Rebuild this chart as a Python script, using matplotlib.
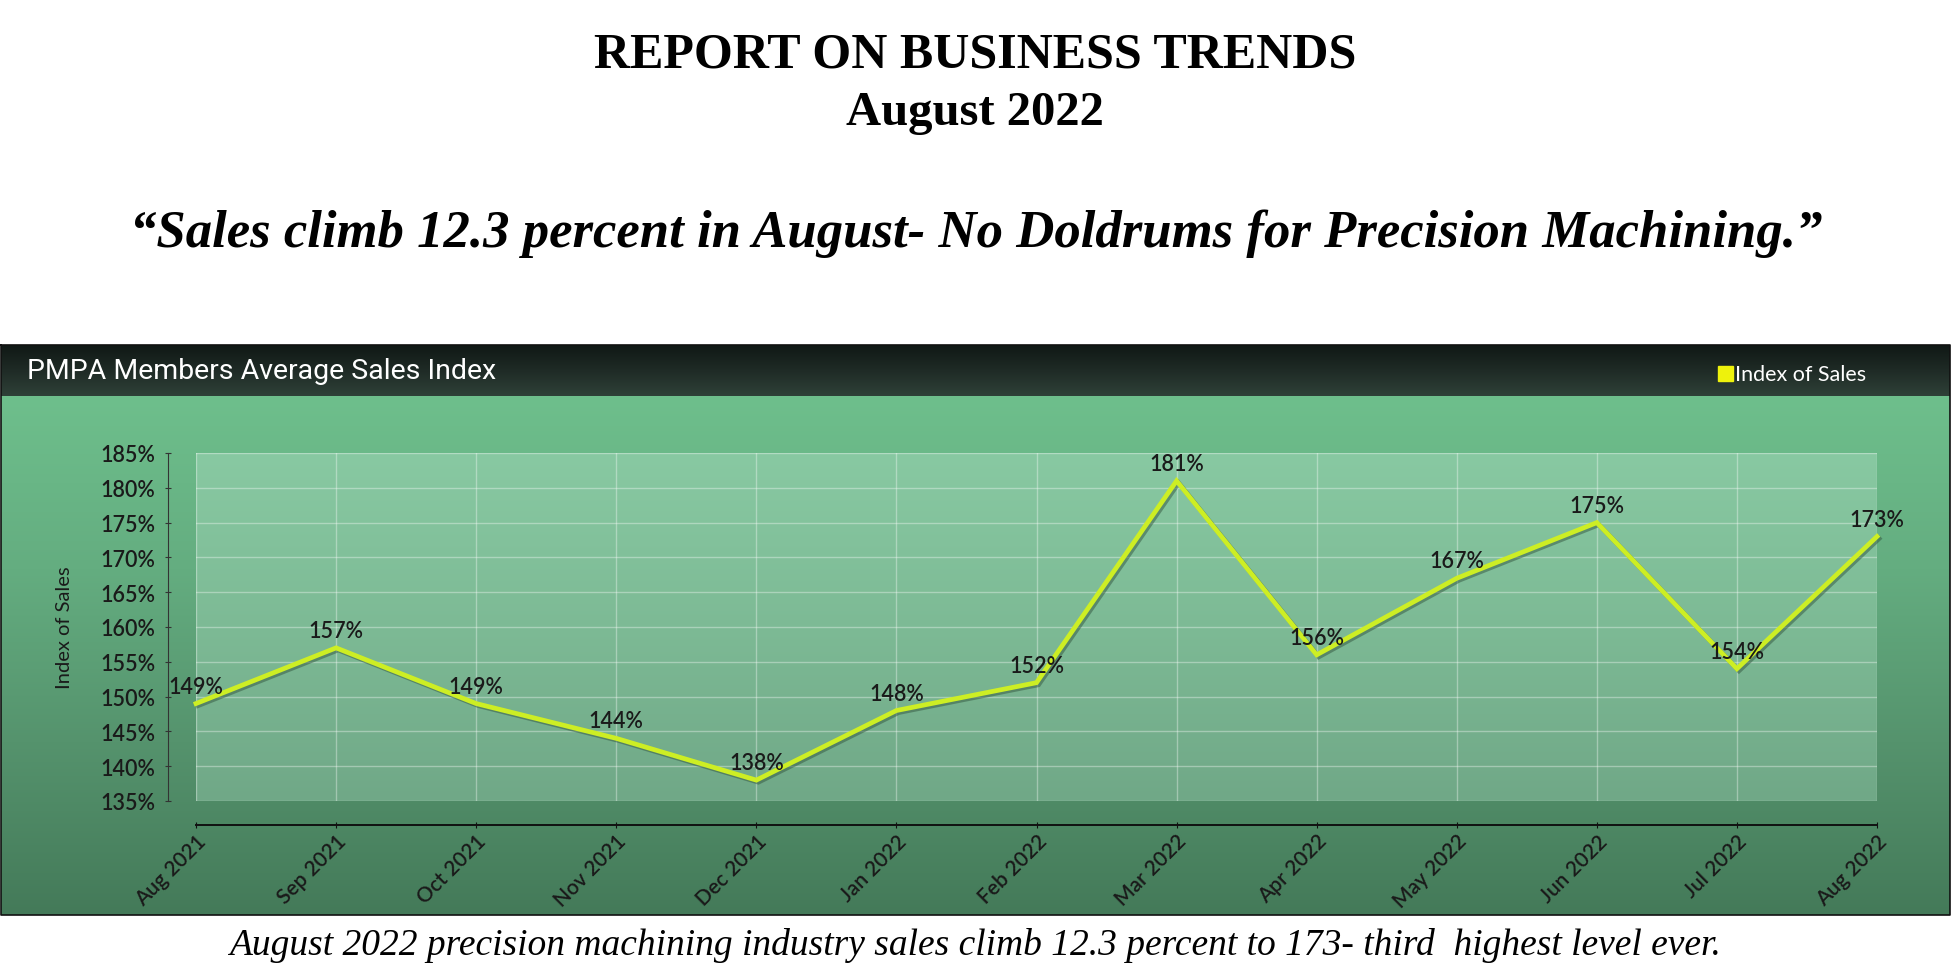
import numpy as np
import matplotlib
matplotlib.use("Agg")
import matplotlib.pyplot as plt
import matplotlib.patheffects as pe
from matplotlib.colors import LinearSegmentedColormap

# ---- data ----
months = ["Aug 2021", "Sep 2021", "Oct 2021", "Nov 2021", "Dec 2021", "Jan 2022",
          "Feb 2022", "Mar 2022", "Apr 2022", "May 2022", "Jun 2022", "Jul 2022", "Aug 2022"]
sales_index = [149, 157, 149, 144, 138, 148, 152, 181, 156, 167, 175, 154, 173]
y_ticks = [135, 140, 145, 150, 155, 160, 165, 170, 175, 180, 185]

title1 = "REPORT ON BUSINESS TRENDS"
title2 = "August 2022"
quote = "\u201cSales climb 12.3 percent in August- No Doldrums for Precision Machining.\u201d"
caption = "August 2022 precision machining industry sales climb 12.3 percent to 173- third  highest level ever."
chart_title = "PMPA Members Average Sales Index"
series_name = "Index of Sales"

W, H = 1951, 979
fig = plt.figure(figsize=(W / 100, H / 100), dpi=100)
fig.patch.set_facecolor("white")

bg = fig.add_axes([0, 0, 1, 1])
bg.set_xlim(0, W)
bg.set_ylim(H, 0)
bg.axis("off")

def vgrad(ax, x0, x1, y0, y1, colors, z):
    cmap = LinearSegmentedColormap.from_list("g", colors)
    g = np.linspace(0, 1, 256).reshape(-1, 1)
    ax.imshow(g, cmap=cmap, extent=[x0, x1, y1, y0], aspect="auto", zorder=z,
              interpolation="bilinear")

vgrad(bg, 1, 1950, 397, 916, ["#6ebf8c", "#64ad80", "#55936d", "#447a59"], 1)
vgrad(bg, 1, 1950, 346, 397, ["#101815", "#1f2b26", "#2f4138"], 2)
vgrad(bg, 196, 1877, 454, 802, ["#88c9a2", "#7dba95", "#70a887"], 3)
bg.plot([1, 1950, 1950, 1, 1], [346, 346, 916, 916, 346], color="#111111", lw=1.2, zorder=4)
bg.set_xlim(0, W)
bg.set_ylim(H, 0)

bg.text(27, 372, chart_title, color="white", fontsize=20.5, va="center", ha="left",
        family=["Liberation Sans Narrow", "Roboto", "DejaVu Sans"], zorder=5)
bg.add_patch(plt.Rectangle((1718, 367), 15, 15, color="#eef20c", zorder=5))
bg.text(1735, 375, series_name, color="white", fontsize=15.5, va="center", ha="left",
        family=["Lato", "DejaVu Sans"], zorder=5)

serif = ["Liberation Serif", "DejaVu Serif"]
bg.text(975, 67, title1, fontsize=36, weight="bold", family=serif, ha="center", va="baseline")
bg.text(975, 125, title2, fontsize=35, weight="bold", family=serif, ha="center", va="baseline")
bg.text(976, 247, quote, fontsize=38, weight="bold", style="italic", family=serif,
        ha="center", va="baseline")
bg.text(975, 955, caption, fontsize=27, style="italic", family=serif, ha="center", va="baseline")

ax = fig.add_axes([196 / W, (H - 802) / H, (1877 - 196) / W, (802 - 454) / H])
ax.patch.set_alpha(0)
x = np.arange(len(months))
ax.set_xlim(0, len(months) - 1)
ax.set_ylim(135, 185)
ax.set_yticks(y_ticks)
ax.set_yticklabels([f"{v}%" for v in y_ticks])
ax.set_xticks(x)
ax.set_xticklabels(months)
ax.grid(True, color="white", alpha=0.35, lw=1)
ax.set_axisbelow(True)

for s in ["top", "right"]:
    ax.spines[s].set_visible(False)
ax.spines["left"].set_position(("outward", 28 * 0.72))
ax.spines["bottom"].set_position(("outward", 24 * 0.72))
ax.spines["left"].set_color("#333333")
ax.spines["bottom"].set_color("#111111")
ax.spines["bottom"].set_linewidth(1.4)

lab_font = ["Lato", "DejaVu Sans"]
ax.tick_params(axis="y", direction="inout", length=4, color="#333333", pad=7,
               labelsize=15.5, labelcolor="#1a1a1a")
ax.tick_params(axis="x", direction="inout", length=4, color="#111111", pad=2,
               labelsize=15, labelcolor="#1a1a1a", labelrotation=45)
for t in ax.get_yticklabels() + ax.get_xticklabels():
    t.set_family(lab_font)
    t.set_fontweight("semibold")
for t in ax.get_xticklabels():
    t.set_ha("right")
    t.set_rotation_mode("anchor")

ax.set_ylabel(series_name, fontsize=14.5, family=lab_font, color="#1a1a1a", labelpad=20)

ax.plot(x, sales_index, color="#cdee24", lw=3.4, solid_joinstyle="miter", zorder=5,
        clip_on=False,
        path_effects=[pe.SimpleLineShadow(offset=(1.5, -1.5), shadow_color="#33553f", alpha=0.5),
                      pe.Normal()])

for xi, v in zip(x, sales_index):
    ax.annotate(f"{v}%", (xi, v), xytext=(0, 5), textcoords="offset points",
                ha="center", va="bottom", fontsize=15.5, color="#1a1a1a",
                family=lab_font, fontweight="semibold", zorder=6)

fig.savefig("out.png", dpi=100, facecolor="white")
